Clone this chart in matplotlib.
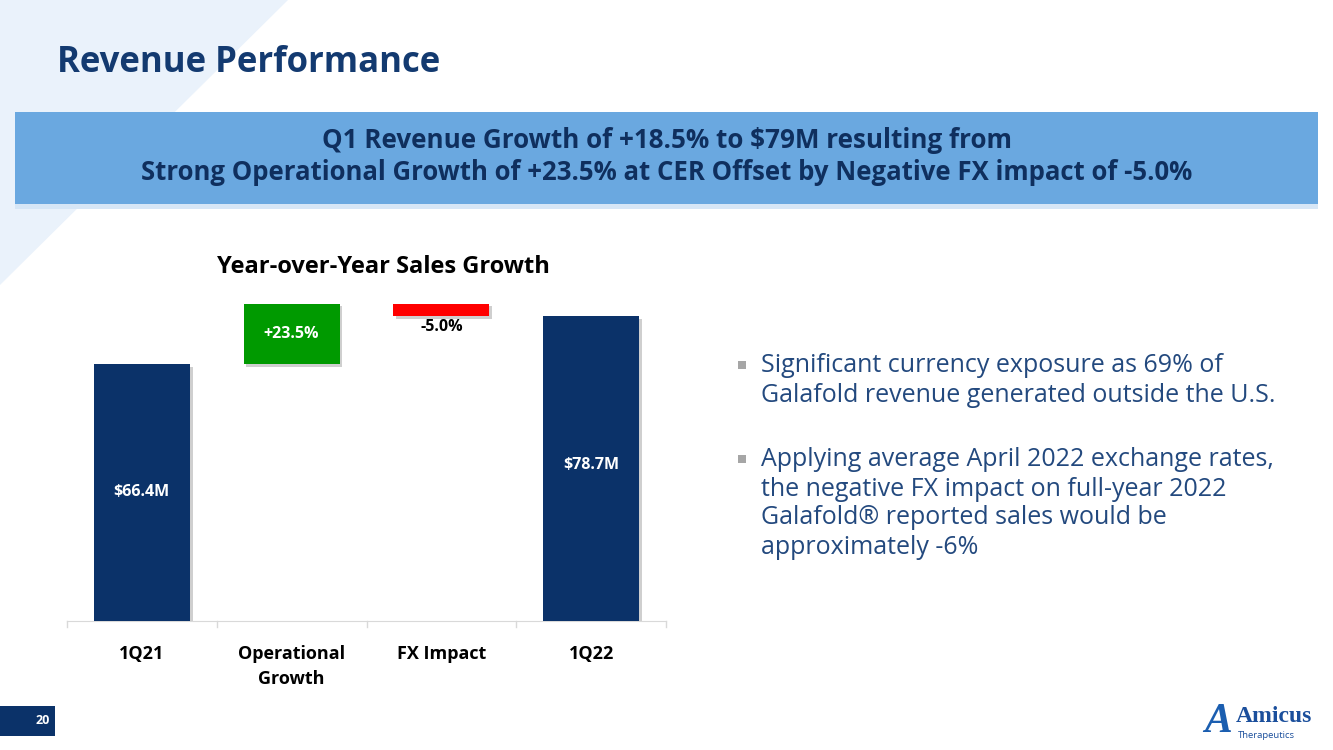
import matplotlib.pyplot as plt
from matplotlib.patches import Rectangle, Polygon
import matplotlib.patheffects as pe

# data
categories = ["1Q21", "Operational\nGrowth", "FX Impact", "1Q22"]
start_value = 66.4
op_growth_pct = 23.5
fx_pct = -5.0
end_value = 78.7
op_growth_amt = 15.6   # +23.5% of 66.4
fx_amt = -3.3          # -5.0%

navy = "#0b3269"
title_navy = "#133a70"
green = "#009a00"
red = "#ff0000"
text_blue = "#23497e"

plt.rcParams['font.family'] = ['Open Sans', 'DejaVu Sans']

fig = plt.figure(figsize=(13.33, 7.5), dpi=100)

# background layer in pixel coords
bg = fig.add_axes([0, 0, 1, 1], zorder=0)
bg.set_xlim(0, 1333)
bg.set_ylim(750, 0)
bg.axis("off")
bg.add_patch(Polygon([(0, 0), (288, 0), (0, 285)], closed=True, color="#eaf2fb", lw=0))
bg.text(57, 63, "Revenue Performance", fontsize=25, fontweight="bold", color=title_navy,
        va="center", ha="left")

# banner
bg.add_patch(Rectangle((15, 203), 1303, 6, color="#d6e6f6", lw=0))
bg.add_patch(Rectangle((15, 112), 1303, 92, color="#6aa8e0", lw=0))
bg.text(667, 141, "Q1 Revenue Growth of +18.5% to $79M resulting from", fontsize=18.7,
        fontweight="bold", color="#0f2f5e", ha="center", va="center")
bg.text(667, 172, "Strong Operational Growth of +23.5% at CER Offset by Negative FX impact of -5.0%",
        fontsize=18.5, fontweight="bold", color="#0f2f5e", ha="center", va="center")

# chart title
bg.text(383, 267, "Year-over-Year Sales Growth", fontsize=17, fontweight="bold",
        color="black", ha="center", va="center")

# bullets
bullets = [
    (366, ["Significant currency exposure as 69% of",
           "Galafold revenue generated outside the U.S."]),
    (460, ["Applying average April 2022 exchange rates,",
           "the negative FX impact on full-year 2022",
           "Galafold\u00ae reported sales would be",
           "approximately -6%"]),
]
for y0, lines in bullets:
    bg.add_patch(Rectangle((738, y0 - 5), 8, 8, color="#a6a6a6", lw=0))
    for i, line in enumerate(lines):
        bg.text(761, y0 + i * 29, line, fontsize=18, color=text_blue, ha="left", va="center")

# page number
bg.add_patch(Rectangle((0, 706), 55, 30, color=navy, lw=0))
bg.text(50, 721, "20", fontsize=9, fontweight="bold", color="white", ha="right", va="center")

# logo
bg.text(1236, 717, "Amicus", fontsize=17, fontweight="bold", color="#1b4f9c",
        family=["Liberation Serif", "DejaVu Serif"], ha="left", va="center")
bg.text(1238, 736, "Therapeutics", fontsize=6.8, color="#1b4f9c", ha="left", va="center")
bg.text(1218, 722, "A", fontsize=30, fontweight="bold", fontstyle="italic", color="#1b5eb0",
        family=["Liberation Serif", "DejaVu Serif"], ha="center", va="center")

# waterfall chart
ax = fig.add_axes([67 / 1333, 129 / 750, 599 / 1333, 329 / 750], zorder=1)
ax.set_xlim(-0.5, 3.5)
ax.set_ylim(0, 85)

x = [0, 1, 2, 3]
bottoms = [0, start_value, start_value + op_growth_amt + fx_amt, 0]
heights = [start_value, op_growth_amt, -fx_amt, end_value]
colors = [navy, green, red, navy]
shadow = [pe.SimplePatchShadow(offset=(2, -2), shadow_rgbFace="#b0b0b0", alpha=0.6), pe.Normal()]
bars = ax.bar(x, heights, bottom=bottoms, width=0.64, color=colors, zorder=3)
for b in bars:
    b.set_path_effects(shadow)

ax.text(0, start_value / 2, f"${start_value}M", color="white", fontsize=11.5,
        fontweight="bold", ha="center", va="center", zorder=4)
ax.text(3, end_value / 2 + 1, f"${end_value}M", color="white", fontsize=11.5,
        fontweight="bold", ha="center", va="center", zorder=4)
ax.text(1, start_value + op_growth_amt / 2, f"+{op_growth_pct}%", color="white", fontsize=11.5,
        fontweight="bold", ha="center", va="center", zorder=4)
ax.text(2, bottoms[2] - 2.8, f"{fx_pct}%", color="black", fontsize=11.5,
        fontweight="bold", ha="center", va="center", zorder=4)

for s in ["top", "right", "left"]:
    ax.spines[s].set_visible(False)
ax.spines["bottom"].set_color("#d9d9d9")
ax.set_yticks([])
ax.set_xticks(x)
ax.set_xticklabels(categories, fontsize=13, fontweight="bold", linespacing=1.5)
ax.tick_params(axis="x", length=0, pad=17)
for xb in [-0.5, 0.5, 1.5, 2.5, 3.5]:
    ax.plot([xb, xb], [0, -1.6], color="#d9d9d9", lw=1, clip_on=False)

fig.savefig("out.png", dpi=100)
